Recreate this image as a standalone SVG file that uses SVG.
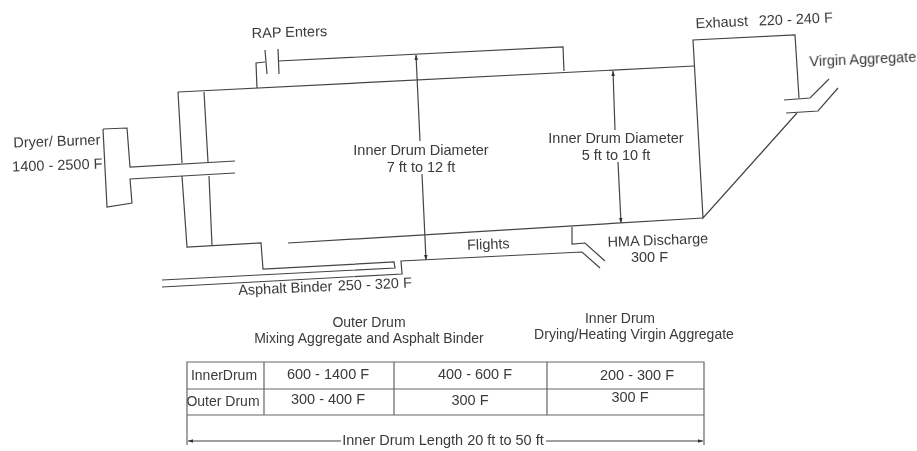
<svg xmlns="http://www.w3.org/2000/svg" width="917" height="451" viewBox="0 0 917 451">
<style>
text{font-family:"Liberation Sans",Arial,sans-serif;font-size:14.5px;fill:#3a3a3a;text-anchor:middle}
.s{font-size:14px}
.l{fill:none;stroke:#444;stroke-width:1.2;stroke-linejoin:miter}
.t{fill:none;stroke:#666;stroke-width:1.2}
</style>
<defs>
<filter id="soft" x="-2%" y="-2%" width="104%" height="104%"><feGaussianBlur stdDeviation="0.5"/></filter>
<marker id="a" markerUnits="userSpaceOnUse" markerWidth="6" markerHeight="5" refX="5" refY="2.5" orient="auto-start-reverse"><path d="M0,0.7L5,2.5L0,4.3z" fill="#333"/></marker>
</defs>
<rect width="917" height="451" fill="#fff"/>
<g filter="url(#soft)">
<g id="connectors">
<path class="l" d="M278,61L563,47L564,71"/>
<path class="l" d="M178,92L694,66"/>
<path class="l" d="M288,243L703,218"/>
<path class="l" d="M162,280L395,268L394,262L263,269L261,243L187,247L182,176M182,163L178,92"/>
<path class="l" d="M204,92L208,162M209,176L212,246"/>
<path class="l" d="M162,287L402,274L401,261L582,252L600,268"/>
<path class="l" d="M572,227L572,244L585,243L605,261"/>
<path class="l" d="M257,88L256,63L265,62M265,50L267,74M278,49L279,74"/>
<path class="l" d="M416,55L420,141" marker-start="url(#a)"/>
<path class="l" d="M422,174L426,260" marker-end="url(#a)"/>
<path class="l" d="M613,71L615,130" marker-start="url(#a)"/>
<path class="l" d="M618,162L621,223" marker-end="url(#a)"/>
</g>
<g id="burner"><path class="l" d="M103,129L127,128L130,167L235,161M235,173L130,179L132,203L107,207L103,129"/></g>
<g id="exhaust-hood"><path class="l" d="M799,98L795,35L693,40L703,218L797,113M784,100L810,98L829,79M786,113L818,111L838,88"/></g>
<g id="labels">
<text x="289.500" y="37" transform="rotate(-1.500 289.500 37)">RAP Enters</text>
<text x="57" y="146" transform="rotate(-2 57 146)">Dryer/ Burner</text>
<text x="57.500" y="170" transform="rotate(-2 57.500 170)">1400 - 2500 F</text>
<text x="421" y="155">Inner Drum Diameter</text>
<text x="421" y="172">7 ft to 12 ft</text>
<text x="616" y="143">Inner Drum Diameter</text>
<text x="616" y="160">5 ft to 10 ft</text>
<text x="488.500" y="249" transform="rotate(-2 488.500 249)">Flights</text>
<text x="658" y="245" transform="rotate(-2 658 245)">HMA Discharge</text>
<text x="649.500" y="262">300 F</text>
<text x="285.500" y="293" transform="rotate(-2.500 285.500 293)">Asphalt Binder</text>
<text x="375" y="289" transform="rotate(-2.500 375 289)">250 - 320 F</text>
<text x="722" y="27" transform="rotate(-2.500 722 27)">Exhaust</text>
<text x="796" y="24" transform="rotate(-2.500 796 24)">220 - 240 F</text>
<text x="863" y="64" transform="rotate(-2.500 863 64)">Virgin Aggregate</text>
<text x="369" y="327" class="s">Outer Drum</text>
<text x="369" y="343" class="s">Mixing Aggregate and Asphalt Binder</text>
<text x="620" y="323" class="s">Inner Drum</text>
<text x="634" y="339" class="s">Drying/Heating Virgin Aggregate</text>
</g>
<g id="table">
<path class="t" d="M187,362H704V415H187ZM187,389H704M264,362V415M394,362V415M547,362V415M187,415V445M704,415V445"/>
<text x="224" y="380" class="s">InnerDrum</text>
<text x="223" y="406" class="s">Outer Drum</text>
<text x="328" y="379">600 - 1400 F</text>
<text x="475" y="379">400 - 600 F</text>
<text x="637" y="380">200 - 300 F</text>
<text x="328" y="404">300 - 400 F</text>
<text x="470" y="405">300 F</text>
<text x="630" y="402">300 F</text>
<text x="443" y="445">Inner Drum Length 20 ft to 50 ft</text>
<path class="l" d="M188,441H341" marker-start="url(#a)"/>
<path class="l" d="M546,441H703" marker-end="url(#a)"/>
</g>
</g>
</svg>
